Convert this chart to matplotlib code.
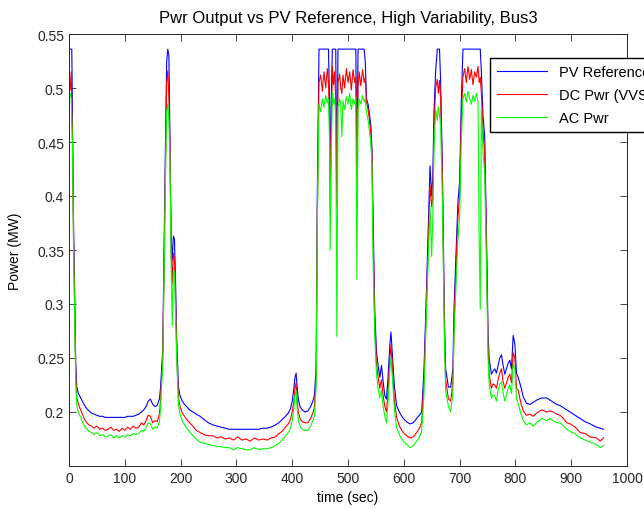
import matplotlib
matplotlib.use("Agg")
import matplotlib.pyplot as plt

# time (sec)
t = [
    # first ramp and morning decay
    0, 2, 4, 5, 6, 7, 8, 10, 12, 14, 17, 20, 24, 28, 32, 36, 40, 45, 50, 55,
    60, 65, 70, 75, 80, 85, 90, 95, 100, 105, 110, 115, 120, 125, 130, 134,
    138, 142, 146, 150, 154, 158, 162, 164,
    # second spike
    166, 168, 170, 173, 175, 177, 179, 181, 183, 185, 187, 189, 191, 193, 196,
    199, 203, 207, 211, 216, 222, 228, 235, 242, 250, 258, 265,
    # long valley
    272, 280, 287, 295, 302, 310, 317, 325, 332, 340, 347, 355, 362, 370, 376,
    382, 388, 393, 397, 400, 403, 405, 407, 409, 411, 414, 418, 423, 428, 433,
    437, 440, 443,
    # big plateau
    445, 448, 451, 454, 457, 460, 463, 465, 467, 468, 470, 472, 474, 476, 478,
    480, 482, 485, 487, 489, 491, 494, 497, 500, 503, 506, 509, 512, 514, 516,
    518, 520, 523, 526, 529, 531, 533, 536, 538, 541, 543, 545, 548,
    # dip and third spike
    551, 554, 557, 560, 563, 566, 569, 572, 575, 577, 580, 583, 587, 593, 599,
    605, 611, 617, 623, 628, 632, 636, 640, 643, 647, 650, 652, 654, 657, 660,
    662, 664, 666, 669, 671, 673, 675, 680, 684, 688, 690, 693, 697, 700, 703,
    # last plateau and tail
    706, 709, 712, 715, 718, 721, 724, 727, 730, 733, 735, 737, 739, 742, 745,
    748, 751, 753, 757, 760, 763, 766, 769, 772, 775, 778, 781, 784, 787, 790,
    793, 796, 799, 802, 805, 810, 814, 820, 826, 832, 838, 847, 856, 862, 868,
    874, 880, 886, 892, 898, 907, 916, 925, 934, 945, 952, 958,
]

pv_ref = [
    0.536, 0.536, 0.536, 0.536, 0.48, 0.431, 0.38, 0.317, 0.246, 0.223,
    0.217, 0.214, 0.21, 0.206, 0.203, 0.201, 0.199, 0.198, 0.197, 0.196,
    0.196, 0.195, 0.195, 0.195, 0.195, 0.195, 0.195, 0.195, 0.195, 0.196,
    0.196, 0.196, 0.197, 0.198, 0.2, 0.202, 0.205, 0.21, 0.212, 0.207,
    0.205, 0.206, 0.212, 0.222,
    0.24, 0.258, 0.339, 0.453, 0.524, 0.536, 0.53, 0.453, 0.363, 0.34,
    0.363, 0.36, 0.32, 0.268, 0.224, 0.215, 0.21, 0.207, 0.205, 0.202,
    0.2, 0.198, 0.196, 0.193, 0.19, 0.188, 0.187,
    0.186, 0.185, 0.184, 0.184, 0.184, 0.184, 0.184, 0.184, 0.184, 0.184,
    0.185, 0.185, 0.186, 0.188, 0.19, 0.193, 0.196, 0.199, 0.203, 0.21,
    0.222, 0.232, 0.236, 0.222, 0.212, 0.205, 0.202, 0.2, 0.201, 0.205,
    0.21, 0.216, 0.243,
    0.40, 0.536, 0.536, 0.536, 0.536, 0.536, 0.536, 0.536, 0.485, 0.41,
    0.49, 0.536, 0.536, 0.536, 0.536, 0.41, 0.536, 0.536, 0.536, 0.536,
    0.536, 0.536, 0.536, 0.536, 0.536, 0.536, 0.536, 0.536, 0.536, 0.43,
    0.536, 0.536, 0.536, 0.536, 0.536, 0.524, 0.49, 0.485, 0.478, 0.465,
    0.443, 0.379, 0.293,
    0.256, 0.243, 0.232, 0.243, 0.228, 0.215, 0.212, 0.234, 0.262, 0.274,
    0.25, 0.225, 0.206, 0.199, 0.194, 0.191, 0.189, 0.19, 0.194, 0.197,
    0.2, 0.237, 0.302, 0.357, 0.428, 0.40, 0.418, 0.477, 0.515, 0.536,
    0.536, 0.536, 0.506, 0.431, 0.354, 0.283, 0.24, 0.223, 0.223, 0.24,
    0.295, 0.339, 0.394, 0.413, 0.487,
    0.536, 0.536, 0.536, 0.536, 0.536, 0.536, 0.536, 0.536, 0.536, 0.536,
    0.536, 0.536, 0.515, 0.474, 0.455, 0.37, 0.273, 0.249, 0.235, 0.238,
    0.24, 0.236, 0.243, 0.25, 0.253, 0.243, 0.235, 0.24, 0.245, 0.248,
    0.24, 0.271, 0.263, 0.236, 0.232, 0.223, 0.214, 0.208, 0.207, 0.209,
    0.211, 0.213, 0.213, 0.211, 0.209, 0.207, 0.206, 0.204, 0.202, 0.2,
    0.197, 0.194, 0.191, 0.189, 0.186, 0.185, 0.184,
]

dc_pwr = [
    0.51, 0.498, 0.515, 0.48, 0.462, 0.42, 0.365, 0.303, 0.236, 0.213,
    0.207, 0.203, 0.198, 0.193, 0.19, 0.188, 0.187, 0.185, 0.187, 0.184,
    0.185, 0.183, 0.184, 0.186, 0.183, 0.184, 0.182, 0.185, 0.183, 0.186,
    0.184, 0.187, 0.185, 0.186, 0.19, 0.188, 0.192, 0.197, 0.196, 0.19,
    0.192, 0.191, 0.198, 0.21,
    0.232, 0.25, 0.322, 0.43, 0.505, 0.516, 0.492, 0.44, 0.35, 0.318,
    0.347, 0.342, 0.302, 0.255, 0.214, 0.205, 0.199, 0.196, 0.193, 0.19,
    0.187, 0.183, 0.181, 0.179, 0.178, 0.178, 0.176,
    0.177, 0.175, 0.176, 0.174, 0.177, 0.174, 0.175, 0.173, 0.176, 0.174,
    0.175, 0.174, 0.176, 0.177, 0.18, 0.182, 0.186, 0.189, 0.193, 0.2,
    0.21, 0.222, 0.227, 0.21, 0.2, 0.194, 0.191, 0.19, 0.19, 0.194,
    0.199, 0.205, 0.232,
    0.385, 0.505, 0.512, 0.497, 0.515, 0.50, 0.518, 0.505, 0.47, 0.385,
    0.46, 0.52, 0.503, 0.515, 0.49, 0.39, 0.505, 0.513, 0.50, 0.495,
    0.512, 0.50, 0.518, 0.505, 0.515, 0.498, 0.517, 0.505, 0.51, 0.41,
    0.50, 0.515, 0.502, 0.517, 0.505, 0.51, 0.488, 0.48, 0.472, 0.458,
    0.435, 0.36, 0.28,
    0.245, 0.232, 0.222, 0.23, 0.215, 0.205, 0.2, 0.22, 0.25, 0.262,
    0.238, 0.212, 0.195, 0.186, 0.181, 0.178, 0.176, 0.177, 0.181, 0.185,
    0.19, 0.225, 0.29, 0.34, 0.41, 0.39, 0.40, 0.46, 0.50, 0.508,
    0.495, 0.507, 0.49, 0.42, 0.34, 0.27, 0.23, 0.212, 0.21, 0.228,
    0.28, 0.325, 0.38, 0.40, 0.47,
    0.51, 0.518, 0.505, 0.52, 0.508, 0.517, 0.503, 0.515, 0.51, 0.52,
    0.505, 0.51, 0.495, 0.46, 0.44, 0.355, 0.26, 0.235, 0.222, 0.226,
    0.225, 0.222, 0.23, 0.236, 0.24, 0.228, 0.222, 0.227, 0.232, 0.235,
    0.227, 0.255, 0.25, 0.222, 0.22, 0.208, 0.201, 0.197, 0.198, 0.196,
    0.199, 0.202, 0.2, 0.201, 0.2, 0.198, 0.197, 0.194, 0.19, 0.189,
    0.186, 0.181, 0.18, 0.177, 0.176, 0.173, 0.176,
]

ac_pwr = [
    0.49, 0.495, 0.49, 0.47, 0.45, 0.41, 0.355, 0.293, 0.228, 0.206,
    0.2, 0.196, 0.191, 0.187, 0.184, 0.182, 0.181, 0.179, 0.181, 0.178,
    0.179, 0.177, 0.178, 0.179, 0.176, 0.178, 0.176, 0.178, 0.177, 0.179,
    0.178, 0.18, 0.179, 0.18, 0.183, 0.182, 0.186, 0.19, 0.189, 0.184,
    0.186, 0.185, 0.191, 0.203,
    0.225, 0.242, 0.31, 0.42, 0.478, 0.485, 0.47, 0.43, 0.34, 0.28,
    0.33, 0.33, 0.29, 0.25, 0.207, 0.198, 0.192, 0.188, 0.185, 0.182,
    0.178, 0.175, 0.172, 0.171, 0.17, 0.169, 0.168,
    0.168, 0.167, 0.167, 0.165, 0.167, 0.166, 0.165, 0.165, 0.167, 0.165,
    0.166, 0.166, 0.167, 0.169, 0.171, 0.174, 0.178, 0.181, 0.185, 0.192,
    0.203, 0.215, 0.22, 0.203, 0.193, 0.187, 0.184, 0.183, 0.183, 0.187,
    0.192, 0.197, 0.225,
    0.37, 0.485, 0.478, 0.49, 0.482, 0.493, 0.486, 0.49, 0.45, 0.35,
    0.44, 0.496, 0.485, 0.49, 0.475, 0.27, 0.482, 0.49, 0.485, 0.455,
    0.488, 0.48, 0.492, 0.485, 0.495, 0.48, 0.49, 0.485, 0.492, 0.323,
    0.48, 0.49, 0.485, 0.493, 0.487, 0.49, 0.478, 0.47, 0.462, 0.448,
    0.428, 0.34, 0.27,
    0.235, 0.222, 0.213, 0.22, 0.205, 0.196, 0.19, 0.21, 0.24, 0.25,
    0.228, 0.203, 0.186, 0.178, 0.173, 0.17, 0.167, 0.169, 0.173, 0.177,
    0.182, 0.215, 0.28, 0.33, 0.39, 0.344, 0.38, 0.44, 0.48, 0.47,
    0.483, 0.475, 0.465, 0.40, 0.33, 0.26, 0.22, 0.205, 0.2, 0.218,
    0.27, 0.31, 0.36, 0.38, 0.45,
    0.49, 0.495, 0.487, 0.497, 0.49, 0.485, 0.493, 0.488, 0.495, 0.487,
    0.363, 0.295, 0.48, 0.44, 0.42, 0.34, 0.25, 0.225, 0.213, 0.216,
    0.215, 0.21, 0.22, 0.226, 0.228, 0.218, 0.21, 0.216, 0.222, 0.225,
    0.217, 0.245, 0.24, 0.212, 0.208, 0.198, 0.192, 0.188, 0.19, 0.187,
    0.19, 0.194, 0.192, 0.194, 0.192, 0.19, 0.19, 0.187, 0.184, 0.182,
    0.18, 0.176, 0.174, 0.172, 0.17, 0.167, 0.169,
]

x_ticks = list(range(0, 1001, 100))
y_ticks = [0.2, 0.25, 0.3, 0.35, 0.4, 0.45, 0.5, 0.55]
y_tick_labels = ["0.2", "0.25", "0.3", "0.35", "0.4", "0.45", "0.5", "0.55"]

plt.rcParams["font.family"] = ["Liberation Sans", "DejaVu Sans"]
plt.rcParams["font.size"] = 10

fig = plt.figure(figsize=(6.44, 5.10), dpi=100)
ax = fig.add_axes([69 / 644, 43 / 510, 558 / 644, 432 / 510])

ax.plot(t, pv_ref, color="#0000ff", lw=0.8, label="PV Reference")
ax.plot(t, dc_pwr, color="#ff0000", lw=0.8, label="DC Pwr (VVSI)")
ax.plot(t, ac_pwr, color="#00ff00", lw=0.8, label="AC Pwr")

ax.set_xlim(0, 1000)
ax.set_ylim(0.15, 0.55)
ax.set_xticks(x_ticks)
ax.set_yticks(y_ticks)
ax.set_yticklabels(y_tick_labels)
ax.tick_params(direction="in", top=True, right=True, length=5, width=0.6,
               labelsize=10, colors="#262626")
for sp in ax.spines.values():
    sp.set_linewidth(0.7)
    sp.set_color("#262626")

ax.set_title("Pwr Output vs PV Reference, High Variability, Bus3", pad=9)
ax.set_xlabel("time (sec)")
ax.set_ylabel("Power (MW)")
ax.xaxis.set_label_coords(0.5, -0.056)
ax.yaxis.set_label_coords(-0.085, 0.5)

# legend sticks out past the right edge of the figure, as in the original
fig.legend(loc="upper left", bbox_to_anchor=(490 / 644, 1 - 59 / 510),
           frameon=True, fancybox=False, edgecolor="black", framealpha=1,
           fontsize=10.5, handlelength=3.4, labelspacing=0.6,
           borderpad=0.5, borderaxespad=0)

fig.savefig("out.png", dpi=100)
